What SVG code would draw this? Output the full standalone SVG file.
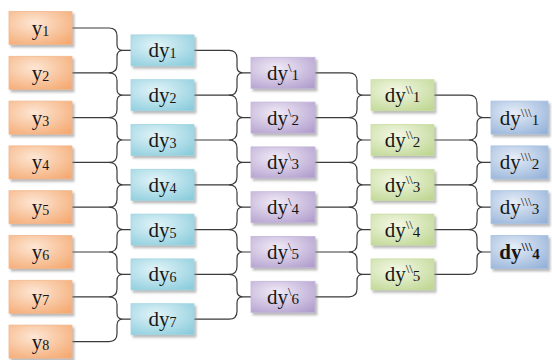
<svg xmlns="http://www.w3.org/2000/svg" xmlns:xlink="http://www.w3.org/1999/xlink" width="552" height="360" viewBox="0 0 552 360">
  <style>
    .ln { fill: none; stroke: #3a3a3a; stroke-width: 1.2; }
    .box { stroke-width: 0.8; filter: url(#sh); }
    .or { fill: url(#gOr); stroke: #f2b88e; }
    .cy { fill: url(#gCy); stroke: #a3d5e0; }
    .pu { fill: url(#gPu); stroke: #c4b6da; }
    .gr { fill: url(#gGr); stroke: #cadea6; }
    .bl { fill: url(#gBl); stroke: #abc3e2; }
    .t { font-family: "Liberation Serif", "Times New Roman", serif; font-size: 21px; fill: #161616; text-anchor: middle; }
    .sub { font-size: 14px; }
    .sub2 { font-size: 15px; }
    .sup { font-size: 13px; }
  </style>
  <defs>
    <filter id="sh" x="-10%" y="-10%" width="130%" height="140%">
      <feDropShadow dx="2" dy="2.5" stdDeviation="1" flood-color="#808080" flood-opacity="0.55"/>
    </filter>
    <radialGradient id="gOr" cx="0.4" cy="0.35" r="0.85">
      <stop offset="0" stop-color="#fde6d4"/>
      <stop offset="1" stop-color="#f4a66c"/>
    </radialGradient>
    <radialGradient id="gCy" cx="0.4" cy="0.35" r="0.85">
      <stop offset="0" stop-color="#e2f4f8"/>
      <stop offset="1" stop-color="#86cadb"/>
    </radialGradient>
    <radialGradient id="gPu" cx="0.4" cy="0.35" r="0.85">
      <stop offset="0" stop-color="#f1ebf7"/>
      <stop offset="1" stop-color="#ae9acb"/>
    </radialGradient>
    <radialGradient id="gGr" cx="0.4" cy="0.35" r="0.85">
      <stop offset="0" stop-color="#f4f8e6"/>
      <stop offset="1" stop-color="#bcd58e"/>
    </radialGradient>
    <radialGradient id="gBl" cx="0.4" cy="0.35" r="0.85">
      <stop offset="0" stop-color="#e6edf7"/>
      <stop offset="1" stop-color="#90afd8"/>
    </radialGradient>
    <!-- curly bracket joining two inputs 44.8 apart, origin at the bracket's top -->
    <path id="br" d="M-8,0 Q0,0 0,8 V16.4 Q0,22.4 6,22.4 Q0,22.4 0,28.4 V36.8 Q0,44.8 -8,44.8 M6,22.4 H14"/>
  </defs>

  <g id="connectors" class="ln">
    <!-- y -> dy -->
    <path d="M72,28 H109 M72,72.8 H109 M72,117.6 H109 M72,162.4 H109 M72,207.2 H109 M72,252 H109 M72,296.8 H109 M72,341.6 H109"/>
    <use xlink:href="#br" x="117" y="28"/>
    <use xlink:href="#br" x="117" y="72.8"/>
    <use xlink:href="#br" x="117" y="117.6"/>
    <use xlink:href="#br" x="117" y="162.4"/>
    <use xlink:href="#br" x="117" y="207.2"/>
    <use xlink:href="#br" x="117" y="252"/>
    <use xlink:href="#br" x="117" y="296.8"/>
    <!-- dy -> dy\ -->
    <path d="M194,50.4 H229 M194,95.2 H229 M194,140 H229 M194,184.8 H229 M194,229.6 H229 M194,274.4 H229 M194,319.2 H229"/>
    <use xlink:href="#br" x="237" y="50.4"/>
    <use xlink:href="#br" x="237" y="95.2"/>
    <use xlink:href="#br" x="237" y="140"/>
    <use xlink:href="#br" x="237" y="184.8"/>
    <use xlink:href="#br" x="237" y="229.6"/>
    <use xlink:href="#br" x="237" y="274.4"/>
    <!-- dy\ -> dy\\ -->
    <path d="M315,72.8 H349 M315,117.6 H349 M315,162.4 H349 M315,207.2 H349 M315,252 H349 M315,296.8 H349"/>
    <use xlink:href="#br" x="357" y="72.8"/>
    <use xlink:href="#br" x="357" y="117.6"/>
    <use xlink:href="#br" x="357" y="162.4"/>
    <use xlink:href="#br" x="357" y="207.2"/>
    <use xlink:href="#br" x="357" y="252"/>
    <!-- dy\\ -> dy\\\ -->
    <path d="M434,95.2 H469 M434,140 H469 M434,184.8 H469 M434,229.6 H469 M434,274.4 H469"/>
    <use xlink:href="#br" x="477" y="95.2"/>
    <use xlink:href="#br" x="477" y="140"/>
    <use xlink:href="#br" x="477" y="184.8"/>
    <use xlink:href="#br" x="477" y="229.6"/>
  </g>

  <!-- inputs y1..y8 -->
  <g id="y1"><rect class="box or" x="9" y="11.5" width="63" height="33"/><text class="t" x="40.5" y="35">y<tspan class="sub" dy="1">1</tspan></text></g>
  <g id="y2"><rect class="box or" x="9" y="56.3" width="63" height="33"/><text class="t" x="40.5" y="79.8">y<tspan class="sub" dy="1">2</tspan></text></g>
  <g id="y3"><rect class="box or" x="9" y="101.1" width="63" height="33"/><text class="t" x="40.5" y="124.6">y<tspan class="sub" dy="1">3</tspan></text></g>
  <g id="y4"><rect class="box or" x="9" y="145.9" width="63" height="33"/><text class="t" x="40.5" y="169.4">y<tspan class="sub" dy="1">4</tspan></text></g>
  <g id="y5"><rect class="box or" x="9" y="190.7" width="63" height="33"/><text class="t" x="40.5" y="214.2">y<tspan class="sub" dy="1">5</tspan></text></g>
  <g id="y6"><rect class="box or" x="9" y="235.5" width="63" height="33"/><text class="t" x="40.5" y="259">y<tspan class="sub" dy="1">6</tspan></text></g>
  <g id="y7"><rect class="box or" x="9" y="280.3" width="63" height="33"/><text class="t" x="40.5" y="303.8">y<tspan class="sub" dy="1">7</tspan></text></g>
  <g id="y8"><rect class="box or" x="9" y="325.1" width="63" height="33"/><text class="t" x="40.5" y="348.6">y<tspan class="sub" dy="1">8</tspan></text></g>

  <!-- first differences -->
  <g id="dy1"><rect class="box cy" x="131" y="34.9" width="63" height="31"/><text class="t" x="162.5" y="57.4">dy<tspan class="sub" dy="1">1</tspan></text></g>
  <g id="dy2"><rect class="box cy" x="131" y="79.7" width="63" height="31"/><text class="t" x="162.5" y="102.2">dy<tspan class="sub" dy="1">2</tspan></text></g>
  <g id="dy3"><rect class="box cy" x="131" y="124.5" width="63" height="31"/><text class="t" x="162.5" y="147">dy<tspan class="sub" dy="1">3</tspan></text></g>
  <g id="dy4"><rect class="box cy" x="131" y="169.3" width="63" height="31"/><text class="t" x="162.5" y="191.8">dy<tspan class="sub" dy="1">4</tspan></text></g>
  <g id="dy5"><rect class="box cy" x="131" y="214.1" width="63" height="31"/><text class="t" x="162.5" y="236.6">dy<tspan class="sub" dy="1">5</tspan></text></g>
  <g id="dy6"><rect class="box cy" x="131" y="258.9" width="63" height="31"/><text class="t" x="162.5" y="281.4">dy<tspan class="sub" dy="1">6</tspan></text></g>
  <g id="dy7"><rect class="box cy" x="131" y="303.7" width="63" height="31"/><text class="t" x="162.5" y="326.2">dy<tspan class="sub" dy="1">7</tspan></text></g>

  <!-- second differences -->
  <g id="dyp1"><rect class="box pu" x="251" y="57.3" width="64" height="31"/><text class="t" x="283" y="79.8">dy<tspan class="sup" dy="-8">\</tspan><tspan class="sub2" dy="8">1</tspan></text></g>
  <g id="dyp2"><rect class="box pu" x="251" y="102.1" width="64" height="31"/><text class="t" x="283" y="124.6">dy<tspan class="sup" dy="-8">\</tspan><tspan class="sub2" dy="8">2</tspan></text></g>
  <g id="dyp3"><rect class="box pu" x="251" y="146.9" width="64" height="31"/><text class="t" x="283" y="169.4">dy<tspan class="sup" dy="-8">\</tspan><tspan class="sub2" dy="8">3</tspan></text></g>
  <g id="dyp4"><rect class="box pu" x="251" y="191.7" width="64" height="31"/><text class="t" x="283" y="214.2">dy<tspan class="sup" dy="-8">\</tspan><tspan class="sub2" dy="8">4</tspan></text></g>
  <g id="dyp5"><rect class="box pu" x="251" y="236.5" width="64" height="31"/><text class="t" x="283" y="259">dy<tspan class="sup" dy="-8">\</tspan><tspan class="sub2" dy="8">5</tspan></text></g>
  <g id="dyp6"><rect class="box pu" x="251" y="281.3" width="64" height="31"/><text class="t" x="283" y="303.8">dy<tspan class="sup" dy="-8">\</tspan><tspan class="sub2" dy="8">6</tspan></text></g>

  <!-- third differences -->
  <g id="dypp1"><rect class="box gr" x="371" y="79.7" width="63" height="31"/><text class="t" x="402.5" y="102.2">dy<tspan class="sup" dy="-8">\\</tspan><tspan class="sub2" dy="8">1</tspan></text></g>
  <g id="dypp2"><rect class="box gr" x="371" y="124.5" width="63" height="31"/><text class="t" x="402.5" y="147">dy<tspan class="sup" dy="-8">\\</tspan><tspan class="sub2" dy="8">2</tspan></text></g>
  <g id="dypp3"><rect class="box gr" x="371" y="169.3" width="63" height="31"/><text class="t" x="402.5" y="191.8">dy<tspan class="sup" dy="-8">\\</tspan><tspan class="sub2" dy="8">3</tspan></text></g>
  <g id="dypp4"><rect class="box gr" x="371" y="214.1" width="63" height="31"/><text class="t" x="402.5" y="236.6">dy<tspan class="sup" dy="-8">\\</tspan><tspan class="sub2" dy="8">4</tspan></text></g>
  <g id="dypp5"><rect class="box gr" x="371" y="258.9" width="63" height="31"/><text class="t" x="402.5" y="281.4">dy<tspan class="sup" dy="-8">\\</tspan><tspan class="sub2" dy="8">5</tspan></text></g>

  <!-- fourth differences -->
  <g id="dyppp1"><rect class="box bl" x="491" y="101.1" width="57" height="33"/><text class="t" x="519.5" y="124.6">dy<tspan class="sup" dy="-8">\\\</tspan><tspan class="sub2" dy="8">1</tspan></text></g>
  <g id="dyppp2"><rect class="box bl" x="491" y="145.9" width="57" height="33"/><text class="t" x="519.5" y="169.4">dy<tspan class="sup" dy="-8">\\\</tspan><tspan class="sub2" dy="8">2</tspan></text></g>
  <g id="dyppp3"><rect class="box bl" x="491" y="190.7" width="57" height="33"/><text class="t" x="519.5" y="214.2">dy<tspan class="sup" dy="-8">\\\</tspan><tspan class="sub2" dy="8">3</tspan></text></g>
  <g id="dyppp4"><rect class="box bl" x="491" y="235.5" width="57" height="33"/><text class="t" x="519.5" y="259" font-weight="bold">dy<tspan class="sup" dy="-8">\\\</tspan><tspan class="sub2" dy="8">4</tspan></text></g>
</svg>
